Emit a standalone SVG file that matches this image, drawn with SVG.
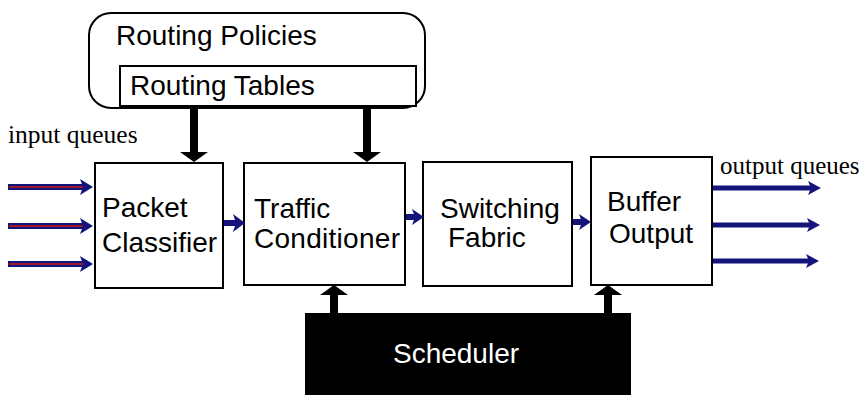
<svg xmlns="http://www.w3.org/2000/svg" width="867" height="410" viewBox="0 0 867 410">
<style>
.box{fill:#fff;stroke:#000;stroke-width:2}
.lbl{font-family:"Liberation Sans",Arial,sans-serif;font-size:28px;fill:#000}
.ser{font-family:"Liberation Serif","Times New Roman",serif;font-size:25px;fill:#000}
.nv{stroke:#14147a;fill:none}
.nvh{fill:#14147a}
.rd{stroke:#9a1a2a;stroke-width:2;fill:none}
.bk{fill:#000}
</style>
<rect width="867" height="410" fill="#fff"/>
<g id="routing-policies">
<rect x="89" y="13" width="336" height="95" rx="22" class="box"/>
<text x="116" y="45" class="lbl">Routing Policies</text>
</g>
<g id="routing-tables">
<rect x="120" y="66" width="296" height="40" class="box"/>
<text x="130" y="95" class="lbl">Routing Tables</text>
</g>
<g id="packet-classifier">
<rect x="95" y="163" width="128" height="125" class="box"/>
<text x="102" y="217" class="lbl">Packet</text>
<text x="102" y="252" class="lbl">Classifier</text>
</g>
<g id="traffic-conditioner">
<rect x="244" y="163" width="161" height="122" class="box"/>
<text x="254" y="218" class="lbl">Traffic</text>
<text x="254" y="248" class="lbl" textLength="146">Conditioner</text>
</g>
<g id="switching-fabric">
<rect x="423" y="162" width="149" height="124" class="box"/>
<text x="440" y="218" class="lbl">Switching</text>
<text x="448" y="247" class="lbl">Fabric</text>
</g>
<g id="buffer-output">
<rect x="591" y="157" width="121" height="128" class="box"/>
<text x="607" y="211" class="lbl">Buffer</text>
<text x="609" y="243" class="lbl">Output</text>
</g>
<g id="scheduler">
<rect x="305" y="313" width="326" height="82" fill="#000"/>
<text x="456" y="363" class="lbl" style="fill:#fff" text-anchor="middle">Scheduler</text>
</g>
<g id="labels">
<text x="8" y="143" class="ser" style="font-size:25.5px">input queues</text>
<text x="720" y="174" class="ser">output queues</text>
</g>
<g id="connectors">
<rect x="190" y="108" width="8" height="45" class="bk"/>
<polygon points="180,152 208,152 194,162" class="bk"/>
<rect x="363" y="108" width="8" height="45" class="bk"/>
<polygon points="353,152 381,152 367,162" class="bk"/>
<rect x="330" y="294" width="8" height="20" class="bk"/>
<polygon points="320,295 348,295 334,285" class="bk"/>
<rect x="604" y="294" width="8" height="20" class="bk"/>
<polygon points="594,295 622,295 608,285" class="bk"/>
<line x1="8" y1="187" x2="85" y2="187" class="nv" stroke-width="6"/>
<line x1="9" y1="187" x2="84" y2="187" class="rd"/>
<polygon points="80,179 93,187 80,195 83,187" class="nvh"/>
<line x1="8" y1="226" x2="85" y2="226" class="nv" stroke-width="6"/>
<line x1="9" y1="226" x2="84" y2="226" class="rd"/>
<polygon points="80,218 93,226 80,234 83,226" class="nvh"/>
<line x1="8" y1="264" x2="85" y2="264" class="nv" stroke-width="6"/>
<line x1="9" y1="264" x2="84" y2="264" class="rd"/>
<polygon points="80,256 93,264 80,272 83,264" class="nvh"/>
<line x1="224" y1="223" x2="236" y2="223" class="nv" stroke-width="6"/>
<polygon points="233,214 245,223 233,232 236,223" class="nvh"/>
<line x1="406" y1="217" x2="415" y2="217" class="nv" stroke-width="6"/>
<polygon points="412,209 424,217 412,225 415,217" class="nvh"/>
<line x1="573" y1="222" x2="582" y2="222" class="nv" stroke-width="6"/>
<polygon points="579,214 591,222 579,230 582,222" class="nvh"/>
<line x1="713" y1="188" x2="812" y2="188" class="nv" stroke-width="5"/>
<polygon points="808,181 821,188 808,195 811,188" class="nvh"/>
<line x1="713" y1="225" x2="811" y2="225" class="nv" stroke-width="5"/>
<polygon points="807,218 820,225 807,232 810,225" class="nvh"/>
<line x1="713" y1="261" x2="810" y2="261" class="nv" stroke-width="5"/>
<polygon points="806,254 819,261 806,268 809,261" class="nvh"/>
</g>
</svg>
